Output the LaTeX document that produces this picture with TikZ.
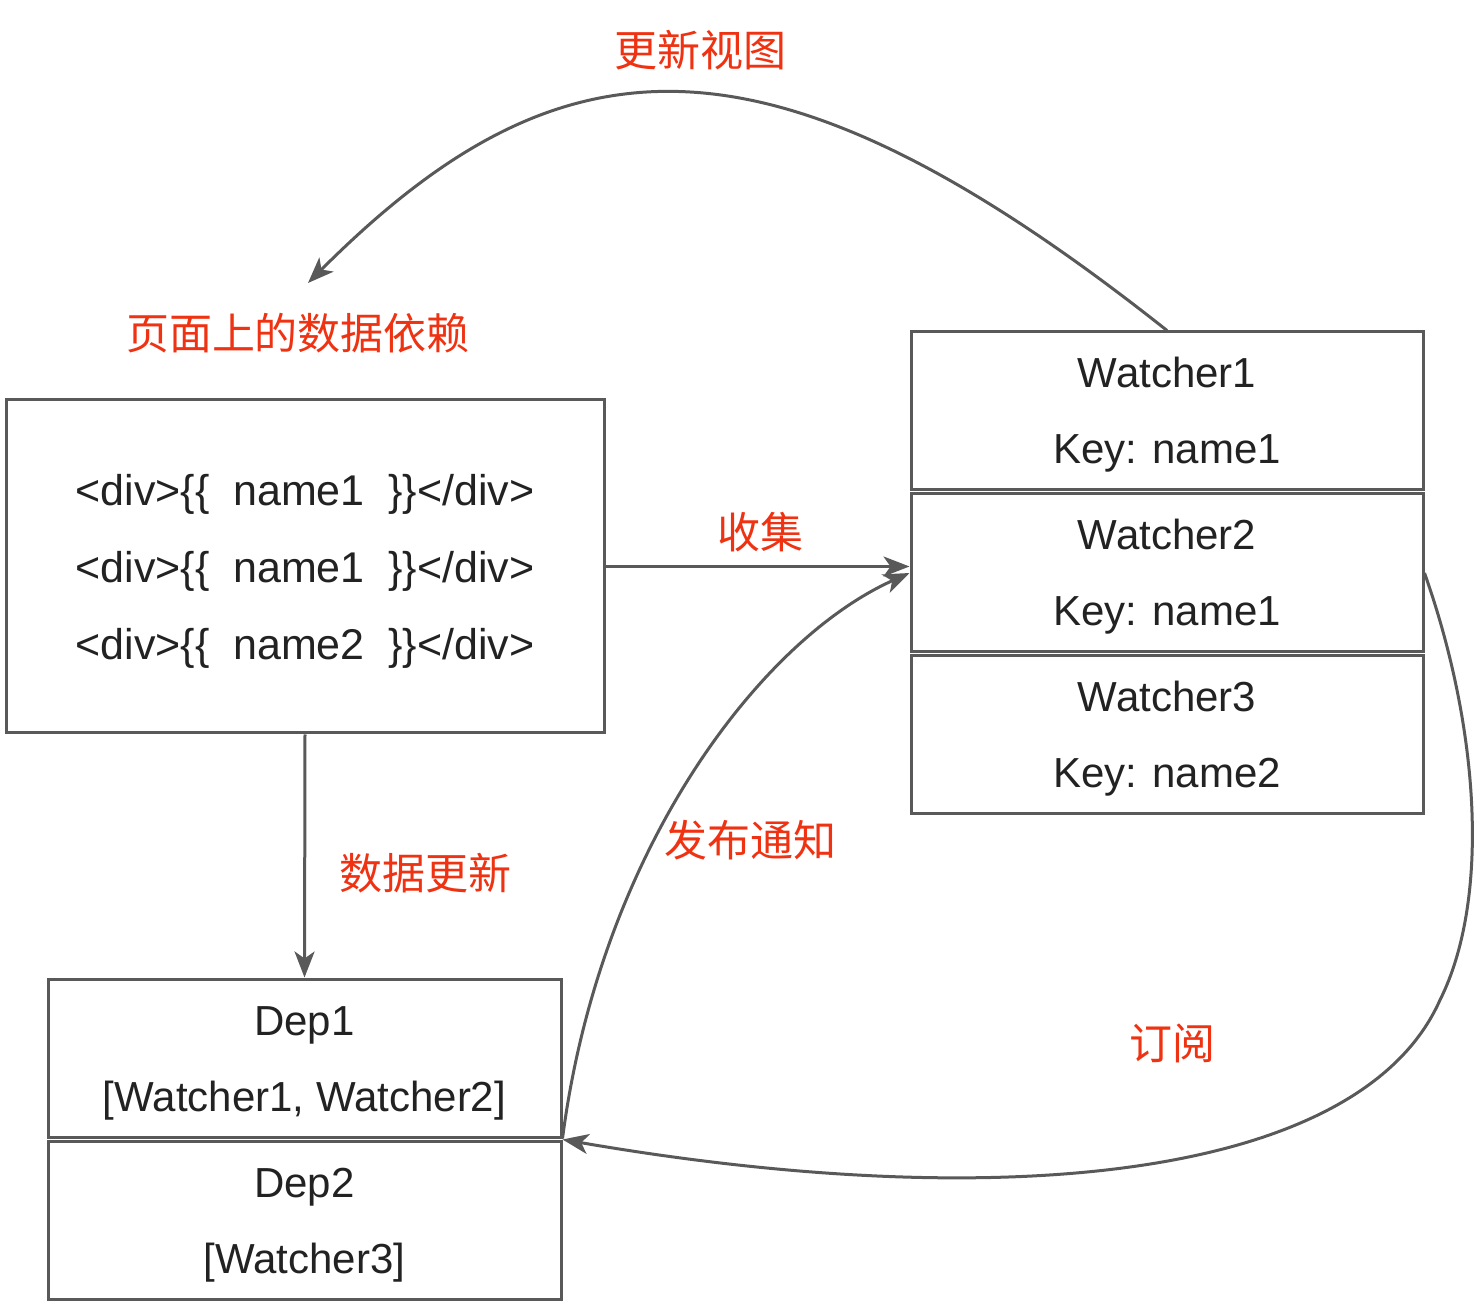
\documentclass[tikz,border=0pt]{standalone}
\usepackage{fontspec}
\setmainfont{Liberation Sans}
\newfontfamily\cjk{Noto Sans CJK SC}
\usepackage{xcolor}
\usetikzlibrary{positioning,arrows.meta}
\definecolor{grisTrait}{HTML}{595959}
\definecolor{grisTexte}{HTML}{222222}
\definecolor{rougeTitre}{HTML}{EE3212}
\tikzset{
  boite/.style={
    rectangle, draw=grisTrait, line width=1.5pt, fill=white,
    minimum width=256pt, minimum height=79pt, align=center,
    text=grisTexte, font=\fontsize{21}{38}\selectfont, inner sep=0pt,
    text height=53pt, text depth=0pt},
  fleche/.style={-{Stealth[length=13pt,width=10pt,inset=3.5pt]},
    draw=grisTrait, line width=1.5pt},
  etiquette/.style={font=\cjk\fontsize{21.5}{24}\selectfont,
    text=rougeTitre, inner sep=0pt}
}

\begin{document}
\begin{tikzpicture}[x=0.5pt, y=-0.5pt]
  \useasboundingbox (0,0) rectangle (1479,1304);

  % --- Page et dependances
  \node[boite, minimum width=299pt, minimum height=166.5pt, text height=93.5pt,
        font=\fontsize{21.5}{38.5}\selectfont] (page) at (305,566.5)
    {<div>\{\{~ name1~ \}\}</div>\\<div>\{\{~ name1~ \}\}</div>\\<div>\{\{~ name2~ \}\}</div>};
  \node[etiquette] (titrePage) at (298,333) {页面上的数据依赖};

  % --- Colonne des watchers
  \node[boite] (w1) at (1167,411) {Watcher1\\Key: name1};
  \node[boite, below=0.5pt of w1] (w2) {Watcher2\\Key: name1};
  \node[boite, below=0.5pt of w2] (w3) {Watcher3\\Key: name2};

  % --- Deps
  \node[boite, minimum width=256.5pt] (dep1) at (304.5,1058) {Dep1\\{[}Watcher1, Watcher2{]}};
  \node[boite, minimum width=256.5pt, below=0.5pt of dep1] (dep2) {Dep2\\{[}Watcher3{]}};

  % --- Liaisons
  \coordinate (cible) at (308,283);
  \draw[fleche] (w1.north) .. controls (764,11) and (558,33) .. (cible);
  \node[etiquette] (lblVue) at (700,50) {更新视图};

  \draw[fleche] (page.east) -- (page.east -| w2.west);
  \node[etiquette] (lblCollecte) at (760,532) {收集};

  \draw[fleche] (page.south) -- (dep1.north);
  \node[etiquette] (lblMaj) at (425,873) {数据更新};

  \draw[fleche] (dep1.south east) .. controls (600,850) and (760,640) .. (w2.west);
  \node[etiquette] (lblNotif) at (750,840) {发布通知};

  \draw[fleche] (w2.east) .. controls (1480,730) and (1490,900) .. (1440,1000)
    .. controls (1360,1180) and (1000,1215) .. (dep2.north east);
  \node[etiquette] (lblAbonne) at (1172,1043) {订阅};

\end{tikzpicture}
\end{document}
